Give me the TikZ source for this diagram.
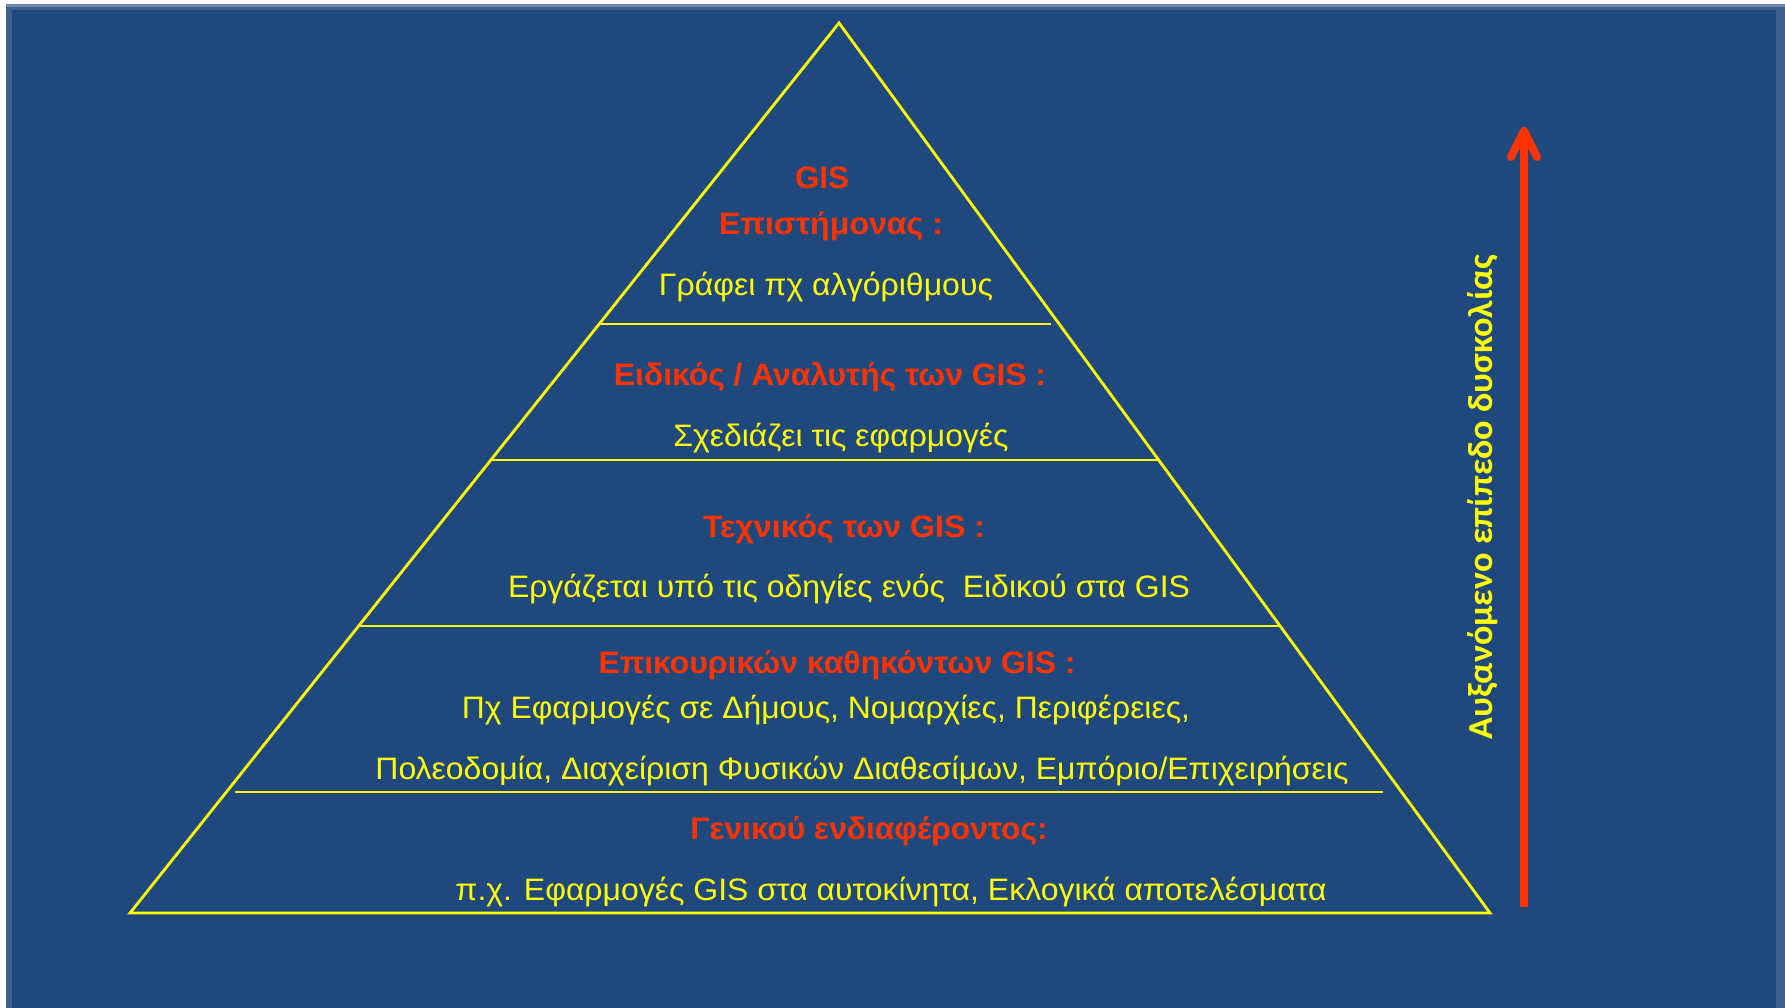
\documentclass[tikz,border=0pt]{standalone}
\usepackage{fontspec}
\setmainfont{Liberation Sans}
\newfontfamily\carlfont{Carlito}
\usepackage{graphicx}
\definecolor{bgblue}{HTML}{1F497D}
\definecolor{rimblue}{HTML}{3C5F8E}
\definecolor{rimlight}{HTML}{6A86AC}
\definecolor{gisred}{HTML}{FF3300}
\definecolor{gisyellow}{HTML}{FFFF00}
\newcommand\fitw[2]{\resizebox{#1pt}{\height}{#2}}
\tikzset{
  pyr/.style={draw=gisyellow, line width=2.8pt, line join=miter},
  sep/.style={draw=gisyellow, line width=2.8pt},
  redt/.style={text=gisred, inner sep=0pt, anchor=base, font=\bfseries\fontsize{31}{31}\selectfont},
  yelt/.style={text=gisyellow, inner sep=0pt, anchor=base, font=\fontsize{31}{31}\selectfont},
  arr/.style={draw=gisred, line width=8pt},
}
\begin{document}
\begin{tikzpicture}[x=1pt,y=-1pt]
\useasboundingbox (0,0) rectangle (1785,1008);
\fill[white] (0,0) rectangle (1785,1008);
\fill[rimlight] (6,4) rectangle (1785,1008);
\fill[rimblue] (6,7) rectangle (1785,1008);
\fill[bgblue] (12,10) rectangle (1776,1008);
% pyramid
\coordinate (apex) at (839,23);
\coordinate (bl) at (130,913);
\coordinate (br) at (1490,913);
\draw[pyr] (apex) -- (bl) -- (br) -- cycle;
\coordinate (s1l) at (600,324);  \coordinate (s1r) at (1051,324);
\coordinate (s2l) at (492,460);  \coordinate (s2r) at (1158,460);
\coordinate (s3l) at (359,626);  \coordinate (s3r) at (1280,626);
\coordinate (s4l) at (235,792);  \coordinate (s4r) at (1383,792);
\draw[sep] (s1l) -- (s1r);
\draw[sep] (s2l) -- (s2r);
\draw[sep] (s3l) -- (s3r);
\draw[sep] (s4l) -- (s4r);
% texts
\node[redt] (t1) at (822,189) {\fitw{54}{GIS}};
\node[redt] (t2) at (831,235) {\fitw{224}{Επιστήμονας :}};
\node[yelt] (t3) at (826,296) {\fitw{334}{Γράφει πχ αλγόριθμους}};
\node[redt] (t4) at (830,385) {\fitw{432}{Ειδικός / Αναλυτής των GIS :}};
\node[yelt] (t5) at (841,446) {\fitw{335}{Σχεδιάζει τις εφαρμογές}};
\node[redt] (t6) at (844,537) {\fitw{282}{Τεχνικός των GIS :}};
\node[yelt] (t7) at (849,597) {\fitw{682}{Εργάζεται υπό τις οδηγίες ενός~ Ειδικού στα GIS}};
\node[redt] (t8) at (837,673) {\fitw{477}{Επικουρικών καθηκόντων GIS :}};
\node[yelt] (t9) at (826,718) {\fitw{728}{Πχ Εφαρμογές σε Δήμους, Νομαρχίες, Περιφέρειες,}};
\node[yelt] (t10) at (862,779) {\fitw{973}{Πολεοδομία, Διαχείριση Φυσικών Διαθεσίμων, Εμπόριο/Επιχειρήσεις}};
\node[redt] (t11) at (869,839) {\fitw{357}{Γενικού ενδιαφέροντος:}};
\node[yelt] (t12) at (891,900) {\fitw{871}{π.χ. Εφαρμογές GIS στα αυτοκίνητα, Εκλογικά αποτελέσματα}};
% arrow
\coordinate (abot) at (1524,907);
\coordinate (atop) at (1524,134);
\coordinate (atip) at (1524,131);
\coordinate (awl) at (1511,157);
\coordinate (awr) at (1537,157);
\draw[arr, line cap=butt] (abot) -- (atop);
\draw[arr, line cap=round, line join=round] (awl) -- (atip) -- (awr);
% vertical label
\node[text=gisyellow, inner sep=0pt, anchor=base, rotate=90,
      font=\carlfont\bfseries\fontsize{35}{35}\selectfont] (vlab) at (1492,497)
      {\fitw{485}{Αυξανόμενο επίπεδο δυσκολίας}};
\end{tikzpicture}
\end{document}
